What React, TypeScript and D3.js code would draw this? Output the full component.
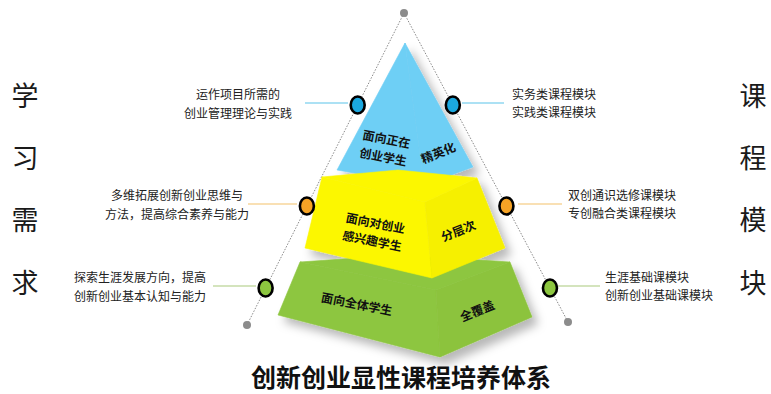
import * as d3 from "d3";

// content
const tiers = ["精英化", "分层次", "全覆盖"];
const audiences = [["面向正在", "创业学生"], ["面向对创业", "感兴趣学生"], ["面向全体学生"]];
const needs = [
  ["运作项目所需的", "创业管理理论与实践"],
  ["多维拓展创新创业思维与", "方法，提高综合素养与能力"],
  ["探索生涯发展方向，提高", "创新创业基本认知与能力"],
];
const modules = [
  ["实务类课程模块", "实践类课程模块"],
  ["双创通识选修课模块", "专创融合类课程模块"],
  ["生涯基础课模块", "创新创业基础课模块"],
];
const leftTitle = ["学", "习", "需", "求"];
const rightTitle = ["课", "程", "模", "块"];
const title = "创新创业显性课程培养体系";

const W = 771;
const H = 394;
const font = "'Noto Sans CJK SC', 'Noto Sans', sans-serif";

// layout (diagram geometry, not data)
const apex: [number, number] = [404, 13];
const leftFoot: [number, number] = [247, 325];
const rightFoot: [number, number] = [568, 322];
const nodeY = [105, 206, 288];
const fills = ["#6ecff5", "#fcf700", "#8dc63f"];
const sideFills = ["#6ecff5", "#f6f000", "#8cc33d"];
const nodeFills = ["#1ba8e0", "#f6a325", "#8cc63f"];
const linkColors = ["#5bc3ea", "#f3c26a", "#aac97c"];

const leftX = d3.scaleLinear().domain([apex[1], leftFoot[1]]).range([apex[0], leftFoot[0]]);
const rightX = d3.scaleLinear().domain([apex[1], rightFoot[1]]).range([apex[0], rightFoot[0]]);
const sideY = d3.scalePoint<number>().domain(d3.range(4)).range([94, 281]);

const poly = (pts: [number, number][]) => d3.line().curve(d3.curveLinearClosed)(pts) ?? "";

// faces per tier: [left/front face, right face, top face]
const faces: [number, number][][][] = [
  [[[405, 43], [424, 185], [337, 170]], [[405, 43], [473, 167], [424, 185]]],
  [
    [[322, 177], [425, 202], [432, 278], [305, 248]],
    [[425, 202], [477, 178], [505, 248], [432, 278]],
    [[322, 177], [398, 170], [477, 178], [425, 202]],
  ],
  [
    [[300, 262], [436, 290], [440, 357], [278, 315]],
    [[436, 290], [510, 262], [532, 317], [440, 357]],
    [[300, 262], [400, 255], [510, 262], [436, 290]],
  ],
];
const leftTextPos: [number, number][] = [[385, 147], [374, 231], [357, 303]];
const rightTextPos: [number, number][] = [[438, 152], [458, 230], [477, 310]];
const needCenterX = [238, 177, 140];
const needLinkX = [[305, 348], [248, 297], [213, 256]];
const moduleX = [512, 568, 605];
const modLinkX = [[462, 504], [518, 562], [557, 600]];

function Tier({ i }: { i: number }) {
  const f = faces[i];
  return (
    <g>
      <path d={poly(f[0])} fill={fills[i]} stroke={fills[i]} strokeWidth={0.6} />
      <path d={poly(f[1])} fill={sideFills[i]} stroke={sideFills[i]} strokeWidth={0.6} />
      {f[2] && <path d={poly(f[2])} fill={fills[i]} stroke={fills[i]} strokeWidth={0.6} />}
    </g>
  );
}

export default function App() {
  const order = [0, 2, 1];
  return (
    <div style={{ position: "absolute", left: 0, top: 0 }}>
      <svg width={W} height={H} viewBox={`0 0 ${W} ${H}`} style={{ display: "block", background: "#fff" }}>
        <defs>
          <filter id="shadow" x="-30%" y="-30%" width="160%" height="160%">
            <feDropShadow dx="6" dy="7" stdDeviation="5" floodColor="#000" floodOpacity="0.28" />
          </filter>
        </defs>

        {/* dotted guide lines */}
        <g stroke="#8a8a8a" strokeWidth={1} strokeDasharray="1.5,1.5" fill="none">
          <line x1={apex[0]} y1={apex[1]} x2={leftFoot[0]} y2={leftFoot[1]} />
          <line x1={apex[0]} y1={apex[1]} x2={rightFoot[0]} y2={rightFoot[1]} />
        </g>
        {[apex, leftFoot, rightFoot].map((p, k) => (
          <circle key={k} cx={p[0]} cy={p[1]} r={4} fill="#8c8c8c" />
        ))}

        {/* pyramid */}
        <g filter="url(#shadow)">
          {order.map((i) => (
            <Tier key={i} i={i} />
          ))}
        </g>

        {/* texts on pyramid */}
        <g fontFamily={font} fontWeight="bold" fontSize={12} fill="#111" textAnchor="middle">
          {audiences.map((lines, i) => (
            <text key={i} transform={`translate(${leftTextPos[i][0]},${leftTextPos[i][1]}) rotate(11)`}>
              {lines.map((s, j) => (
                <tspan key={j} x={0} y={(j - (lines.length - 1) / 2) * 18} dominantBaseline="central">
                  {s}
                </tspan>
              ))}
            </text>
          ))}
          {tiers.map((s, i) => (
            <text
              key={i}
              transform={`translate(${rightTextPos[i][0]},${rightTextPos[i][1]}) rotate(-22)`}
              dominantBaseline="central"
            >
              {s}
            </text>
          ))}
        </g>

        {/* connectors and nodes */}
        {nodeY.map((y, i) => (
          <g key={i}>
            <line x1={needLinkX[i][0]} x2={needLinkX[i][1]} y1={y - 2} y2={y - 2} stroke={linkColors[i]} strokeWidth={1.2} />
            <line x1={modLinkX[i][0]} x2={modLinkX[i][1]} y1={y - 2} y2={y - 2} stroke={linkColors[i]} strokeWidth={1.2} />
            <ellipse cx={leftX(y)} cy={y} rx={7} ry={8.5} fill={nodeFills[i]} stroke="#000" strokeWidth={2.6} />
            <ellipse cx={rightX(y)} cy={y} rx={7} ry={8.5} fill={nodeFills[i]} stroke="#000" strokeWidth={2.6} />
          </g>
        ))}

        {/* side labels */}
        <g fontFamily={font} fontSize={12} fill="#222">
          {needs.map((lines, i) => (
            <text key={i} textAnchor="middle">
              {lines.map((s, j) => (
                <tspan key={j} x={needCenterX[i]} y={nodeY[i] - 12 + j * 19} dominantBaseline="central">
                  {s}
                </tspan>
              ))}
            </text>
          ))}
          {modules.map((lines, i) => (
            <text key={i}>
              {lines.map((s, j) => (
                <tspan key={j} x={moduleX[i]} y={nodeY[i] - 12 + j * 18} dominantBaseline="central">
                  {s}
                </tspan>
              ))}
            </text>
          ))}
        </g>

        {/* vertical titles */}
        <g fontFamily={font} fontSize={27} fill="#1a1a1a" textAnchor="middle">
          {leftTitle.map((c, k) => (
            <text key={k} x={25} y={sideY(k)} dominantBaseline="central">
              {c}
            </text>
          ))}
          {rightTitle.map((c, k) => (
            <text key={k} x={753} y={sideY(k)} dominantBaseline="central">
              {c}
            </text>
          ))}
        </g>

        <text
          x={401}
          y={376}
          textAnchor="middle"
          dominantBaseline="central"
          fontFamily={font}
          fontWeight="bold"
          fontSize={25}
          fill="#111"
        >
          {title}
        </text>
      </svg>
    </div>
  );
}
